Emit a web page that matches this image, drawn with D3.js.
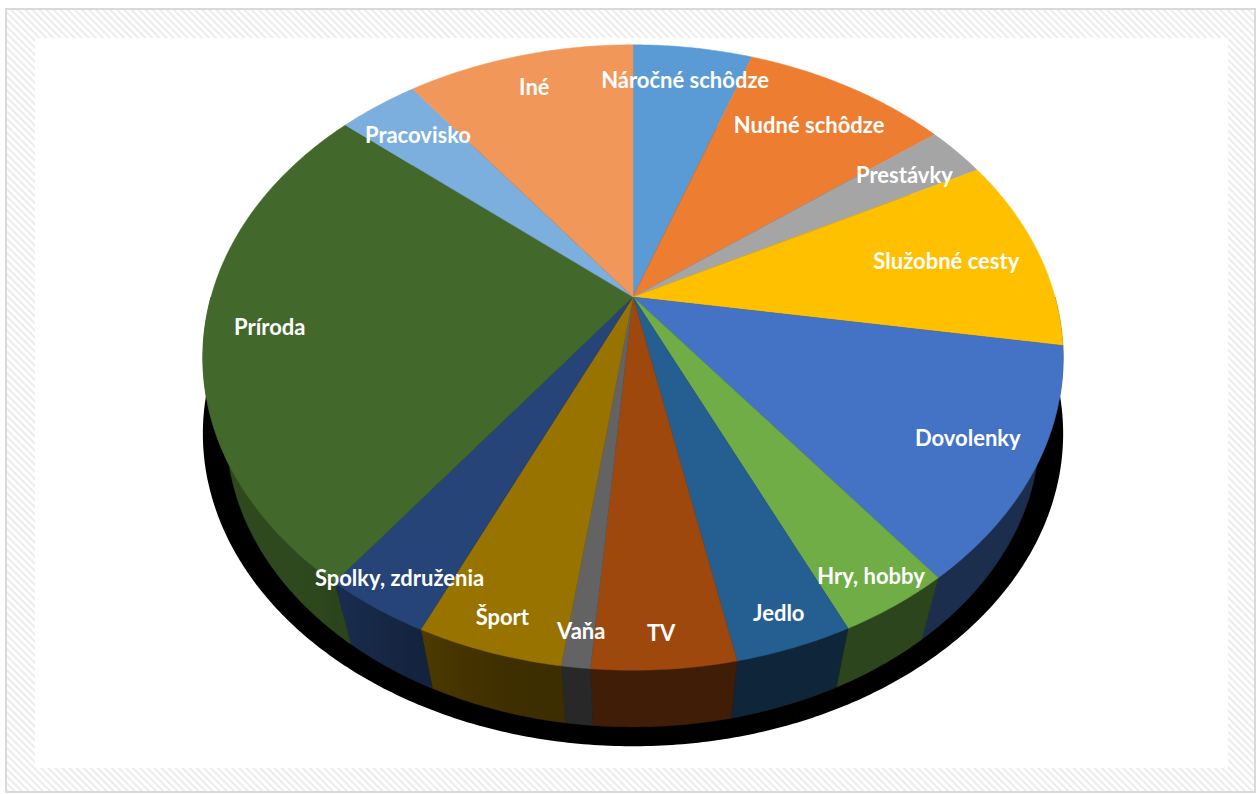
<!DOCTYPE html>
<html>
<head>
<meta charset="utf-8">
<script src="https://cdn.jsdelivr.net/npm/d3@7"></script>
<style>
  body { margin: 0; background: #fff; }
  text { font-family: Lato, "Open Sans", sans-serif; }
</style>
</head>
<body>
<svg width="1260" height="794"></svg>
<script>
// slices, clockwise from 12 o'clock
var categories = ['Náročné schôdze', 'Nudné schôdze', 'Prestávky', 'Služobné cesty', 'Dovolenky',
  'Hry, hobby', 'Jedlo', 'TV', 'Vaňa', 'Šport', 'Spolky, združenia', 'Príroda', 'Pracovisko', 'Iné'];
var values = [5.4, 9.3, 2.7, 10.1, 12.0, 3.6, 3.7, 4.5, 0.9, 4.6, 3.4, 25.9, 3.6, 10.3];
var colors = ['#5B9BD5', '#ED7D31', '#A5A5A5', '#FFC000', '#4472C4', '#70AD47', '#255E91',
  '#9E480E', '#636363', '#997300', '#264478', '#43682B', '#7CAFDD', '#F1975A'];

var svg = d3.select('svg');

// frame with hatched border
var defs = svg.append('defs');
var pat = defs.append('pattern')
  .attr('id', 'hatch')
  .attr('patternUnits', 'userSpaceOnUse')
  .attr('width', 5).attr('height', 5)
  .attr('patternTransform', 'rotate(-45)');
pat.append('rect').attr('width', 5).attr('height', 5).attr('fill', '#fff');
pat.append('rect').attr('width', 2).attr('height', 5).attr('fill', '#ececec');

svg.append('rect')
  .attr('x', 6).attr('y', 9).attr('width', 1249).attr('height', 783)
  .attr('fill', 'url(#hatch)')
  .attr('stroke', '#d9d9d9').attr('stroke-width', 2);
svg.append('rect')
  .attr('x', 35).attr('y', 38).attr('width', 1193).attr('height', 730)
  .attr('fill', '#fff');

// 3d projection of the disc
var cx = 633, cy = 297, rx = 422, ry = 301, persp = 0.1936;
var xs = d3.scaleLinear().domain([-1, 1]).range([cx - rx, cx + rx]);
var ys = d3.scaleLinear().domain([-1, 1]).range([cy - ry, cy + ry]);

function proj(r, ang) {
  var u = r * Math.sin(ang), v = -r * Math.cos(ang);
  var w = 1 / (1 - persp * v);
  return [xs(u * w), ys(v * w)];
}
function radiusAt(x, y) {
  var X = xs.invert(x), Y = ys.invert(y);
  var v = Y / (1 + persp * Y);
  var u = X * (1 - persp * v);
  return Math.sqrt(u * u + v * v);
}
// wall bottom: edges run toward a vanishing point below
var vanish = [cx, 1700], depth = 0.055;
function drop(p) {
  return [p[0] + depth * (vanish[0] - p[0]), p[1] + depth * (vanish[1] - p[1])];
}

var pie = d3.pie().sort(null).value(function (d) { return d; });
var arcs = pie(values);

function angles(a0, a1, step) {
  var n = Math.max(2, Math.ceil((a1 - a0) / step));
  return d3.range(n + 1).map(function (i) { return a0 + (a1 - a0) * i / n; });
}
function rimPoints(a0, a1) {
  return angles(a0, a1, 0.01).map(function (a) { return proj(1, a); });
}

// shadow under the pie
var shadowPts = rimPoints(0, Math.PI * 2).map(function (p) { return [p[0], p[1] + 76]; });
svg.append('path')
  .attr('d', d3.line()(shadowPts) + 'Z')
  .attr('fill', '#000');

// walls, shaded by direction
function shade(ang) {
  var deg = ang * 180 / Math.PI;
  var s = Math.min(1, Math.max(0, (deg - 190) / 35));
  s = s * s * (3 - 2 * s);
  return 0.4 + 0.3 * s;
}
var wallG = svg.append('g');
arcs.forEach(function (d, i) {
  var a0 = Math.max(d.startAngle, Math.PI / 2), a1 = Math.min(d.endAngle, Math.PI * 1.5);
  if (a1 <= a0) return;
  var ts = angles(a0, a1, 0.01);
  var top = ts.map(function (a) { return proj(1, a); });
  var bottom = top.map(drop).reverse();
  var x0 = top[0][0], x1 = top[top.length - 1][0];
  var c = d3.rgb(colors[i]);
  var grad = defs.append('linearGradient')
    .attr('id', 'wall' + i)
    .attr('gradientUnits', 'userSpaceOnUse')
    .attr('x1', x0).attr('x2', x1).attr('y1', 0).attr('y2', 0);
  ts.forEach(function (a, j) {
    var f = shade(a);
    grad.append('stop')
      .attr('offset', x1 === x0 ? 0 : (top[j][0] - x0) / (x1 - x0))
      .attr('stop-color', d3.rgb(c.r * f, c.g * f, c.b * f));
  });
  var mid = d3.rgb(c.r * shade((a0 + a1) / 2), c.g * shade((a0 + a1) / 2), c.b * shade((a0 + a1) / 2));
  wallG.append('path')
    .attr('d', d3.line()(top.concat(bottom)) + 'Z')
    .attr('fill', 'url(#wall' + i + ')')
    .attr('stroke', mid).attr('stroke-width', 0.5);
});

// top faces
svg.append('g').selectAll('path')
  .data(arcs)
  .enter()
  .append('path')
  .attr('d', function (d) {
    return d3.line()([[cx, cy]].concat(rimPoints(d.startAngle, d.endAngle))) + 'Z';
  })
  .attr('fill', function (d, i) { return colors[i]; })
  .attr('stroke', function (d, i) { return colors[i]; })
  .attr('stroke-width', 0.5);

// labels
var labels = svg.append('g').selectAll('text')
  .data(arcs)
  .enter()
  .append('text')
  .attr('text-anchor', 'middle')
  .attr('dy', '0.35em')
  .attr('fill', '#fff')
  .attr('font-size', 22)
  .attr('font-weight', 'bold')
  .text(function (d, i) { return categories[i]; });

labels.each(function (d) {
  var mid = (d.startAngle + d.endAngle) / 2;
  var w = this.getComputedTextLength();
  var front = -Math.cos(mid) > 0.8;
  var r = front ? 0.92 : 0.85;
  var p = proj(r, mid);
  if (!front) {
    while (r > 0.3) {
      p = proj(r, mid);
      var m = Math.max(
        radiusAt(p[0] - w / 2, p[1] - 8), radiusAt(p[0] + w / 2, p[1] - 8),
        radiusAt(p[0] - w / 2, p[1] + 8), radiusAt(p[0] + w / 2, p[1] + 8));
      if (m <= 0.955) break;
      r -= 0.005;
    }
  }
  d3.select(this).attr('x', p[0]).attr('y', p[1]);
});
</script>
</body>
</html>
